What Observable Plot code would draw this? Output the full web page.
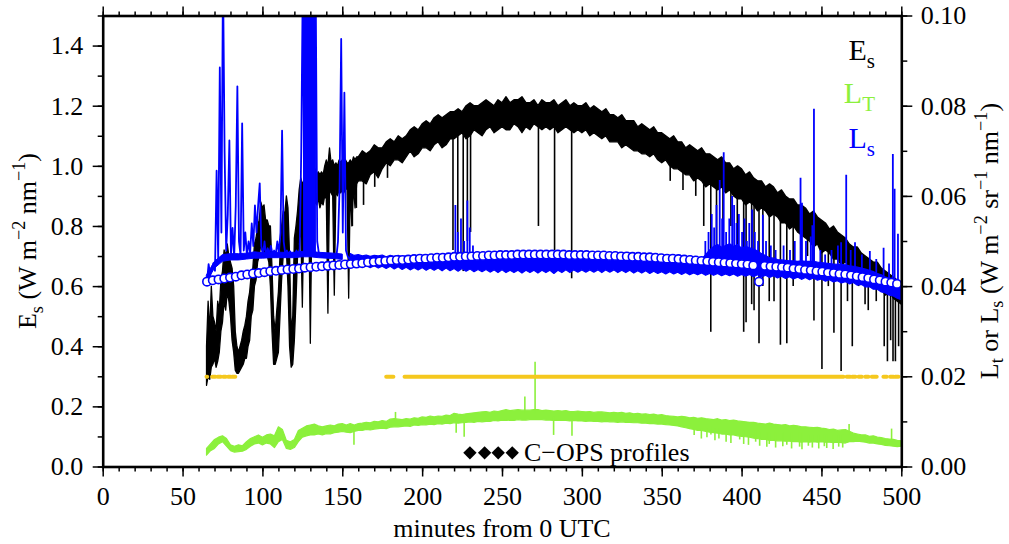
<!DOCTYPE html>
<html><head><meta charset="utf-8">
<script src="https://cdn.jsdelivr.net/npm/d3@7"></script>
<script src="https://cdn.jsdelivr.net/npm/@observablehq/plot@0.6"></script>
<style>body{margin:0;background:#fff;} svg{display:block}</style>
</head><body><div id="chart"></div>
<script>
// ---------------- data (minutes from 0 UTC) ----------------
// Es (left axis, W m-2 nm-1): envelope of the record, 65..160 min, 1-min samples
const esLeftStart = 65;
const esLeftLo = [0.27,0.30,0.29,0.33,0.34,0.36,0.33,0.35,0.38,0.45,
  0.48,0.55,0.52,0.58,0.55,0.50,0.42,0.38,0.32,0.31,
  0.31,0.32,0.33,0.34,0.36,0.36,0.40,0.42,0.50,0.52,
  0.60,0.62,0.68,0.70,0.74,0.72,0.72,0.70,0.70,0.68,
  0.60,0.45,0.34,0.34,0.36,0.38,0.50,0.62,0.70,0.70,
  0.72,0.60,0.40,0.33,0.34,0.42,0.55,0.70,0.75,0.80,
  0.53,0.85,0.84,0.88,0.86,0.41,0.86,0.87,0.88,0.87,
  0.89,0.86,0.88,0.87,0.90,0.89,0.51,0.92,0.91,0.90,
  0.57,0.92,0.90,0.92,0.91,0.92,0.91,0.93,0.92,0.56,
  0.93,0.80,0.93,0.86,0.94,0.95];
const esLeftHi = [0.40,0.55,0.45,0.60,0.50,0.48,0.45,0.55,0.52,0.62,
  0.65,0.72,0.70,0.74,0.70,0.68,0.66,0.60,0.45,0.40,
  0.38,0.40,0.42,0.45,0.47,0.50,0.55,0.58,0.64,0.66,
  0.74,0.76,0.80,0.82,0.88,0.86,0.87,0.82,0.82,0.80,
  0.80,0.66,0.50,0.45,0.52,0.58,0.70,0.80,0.85,0.84,
  0.90,0.86,0.70,0.45,0.50,0.76,0.80,0.85,0.92,0.96,
  0.94,0.95,0.94,0.98,0.96,0.95,0.96,0.97,0.99,0.97,
  0.98,0.97,0.98,0.97,1.00,1.02,1.00,1.06,1.01,1.02,
  1.00,1.01,1.00,1.02,1.01,1.02,1.00,1.02,1.01,1.01,
  1.02,1.01,1.03,1.02,1.03,1.03];
// Es envelope 160..500 min, 2.5-min samples
const esBandStart = 160, esBandStep = 2.5;
const esBandLo = [0.95,0.95,0.94,0.97, 0.98,0.96,0.99,1.01, 1.00,1.02,1.02,1.01, 1.03,1.05,1.03,1.04,
  1.06,1.06,1.05,1.07, 1.08,1.06,1.07,1.09, 1.09,1.10,1.11,1.09, 1.10,1.12,1.11,1.10,
  1.12,1.13,1.11,1.12, 1.13,1.12,1.12,1.14, 1.13,1.11,1.13,1.12, 1.14,1.13,1.12,1.13,
  1.12,1.13,1.11,1.12, 1.13,1.12,1.11,1.12, 1.11,1.12,1.10,1.11, 1.10,1.09,1.10,1.08,
  1.08,1.08,1.06,1.07, 1.06,1.05,1.05,1.04, 1.04,1.03,1.04,1.02, 1.01,1.02,1.00,0.99,
  0.99,0.98,0.97,0.97, 0.95,0.96,0.95,0.93, 0.94,0.93,0.92,0.93, 0.91,0.92,0.90,0.89,
  0.89,0.87,0.88,0.87, 0.85,0.86,0.85,0.83, 0.84,0.83,0.81,0.81, 0.79,0.80,0.78,0.77,
  0.76,0.75,0.73,0.74, 0.71,0.72,0.71,0.69, 0.69,0.67,0.68,0.67, 0.65,0.66,0.63,0.63,
  0.62,0.60,0.61,0.59, 0.57,0.58,0.56,0.55, 0.54];
const esBandHi = [1.03,1.05,1.04,1.05, 1.07,1.06,1.06,1.08, 1.09,1.08,1.10,1.09, 1.10,1.12,1.13,1.12,
  1.14,1.15,1.14,1.16, 1.17,1.16,1.17,1.18, 1.18,1.19,1.18,1.20, 1.21,1.20,1.20,1.21,
  1.22,1.21,1.20,1.22, 1.21,1.23,1.21,1.22, 1.22,1.23,1.21,1.21, 1.22,1.20,1.22,1.21,
  1.21,1.22,1.20,1.21, 1.22,1.20,1.21,1.20, 1.20,1.21,1.19,1.20, 1.19,1.18,1.19,1.17,
  1.17,1.16,1.17,1.15, 1.15,1.15,1.13,1.14, 1.13,1.12,1.13,1.11, 1.11,1.10,1.09,1.10,
  1.08,1.08,1.06,1.07, 1.06,1.05,1.06,1.04, 1.04,1.03,1.02,1.03, 1.01,1.01,0.99,1.00,
  0.99,0.97,0.98,0.96, 0.95,0.95,0.93,0.94, 0.93,0.91,0.92,0.90, 0.89,0.89,0.87,0.87,
  0.86,0.84,0.85,0.83, 0.82,0.81,0.79,0.80, 0.78,0.77,0.76,0.74, 0.73,0.73,0.71,0.70,
  0.69,0.68,0.68,0.66, 0.65,0.64,0.63,0.62, 0.60];
// Es cloud dips: time, level before dip, dip minimum
const esDipT   = [156,158.5,163,170,178,219,222,225.4,228,230,272.5,282.6,293.3,355,363,371,376,380.4,384,388,393,397,401,402.5,406,407.5,410.6,413,417,420,424,428,432,437,441,445,450,454,457.5,462,466,469,473,477,479,484,489,491,493,494.5,496,498];
const esDipTop = [0.98,0.98,1.00,1.02,1.04,1.14,1.14,1.15,1.15,1.15,1.17,1.17,1.16,1.05,1.03,1.01,1.00,0.99,0.98,0.97,0.96,0.95,0.94,0.94,0.92,0.92,0.91,0.90,0.89,0.88,0.87,0.85,0.84,0.82,0.81,0.79,0.77,0.76,0.75,0.73,0.72,0.70,0.68,0.66,0.66,0.63,0.61,0.60,0.59,0.58,0.58,0.57];
const esDipMin = [0.80,0.86,0.87,0.93,0.96,0.72,0.70,0.65,0.75,0.78,0.80,0.72,0.626,0.95,0.92,0.90,0.80,0.448,0.70,0.75,0.80,0.72,0.448,0.48,0.54,0.52,0.41,0.60,0.55,0.55,0.405,0.41,0.60,0.65,0.70,0.486,0.324,0.60,0.445,0.318,0.55,0.40,0.60,0.54,0.52,0.55,0.40,0.35,0.42,0.35,0.35,0.40];

// Ls (right axis, W m-2 sr-1 nm-1): detailed 65..160 min, 1-min samples
const lsDetailStart = 65;
const lsDetail = [0.0412,0.0450,0.0425,0.0440,0.0452,0.0435,0.0657,0.0460,0.0886,0.0520,
  0.1100,0.0700,0.0480,0.0560,0.0724,0.0470,0.0530,0.0465,0.0580,0.0844,
  0.0500,0.0470,0.0762,0.0480,0.0520,0.0468,0.0500,0.0475,0.0540,0.0490,
  0.0580,0.0520,0.0580,0.0629,0.0490,0.0470,0.0500,0.0468,0.0485,0.0470,
  0.0490,0.0472,0.0480,0.0470,0.0500,0.0475,0.0520,0.0746,0.0500,0.0472,
  0.0480,0.0470,0.0478,0.0468,0.0475,0.0470,0.0480,0.0472,0.0478,0.0700,
  0.1100,0.0480,0.1100,0.0500,0.1100,0.0705,0.1100,0.0480,0.1100,0.0500,
  0.0475,0.0468,0.0472,0.0466,0.0470,0.0468,0.0472,0.0466,0.0470,0.0465,
  0.0470,0.0466,0.0500,0.0620,0.0949,0.0520,0.0830,0.0480,0.0468,0.0462,
  0.0466,0.0460,0.0464,0.0458,0.0462,0.0456];
// saturated glint burst (off scale): start, end, base
const lsBurst = {start: 125.5, end: 133.5, base: 0.0470, top: 0.1100};
// Ls envelope 65..150 min, 5-min samples
const lsBand1Start = 65, lsBand1Step = 5;
const lsBand1Lo = [0.0410,0.0440,0.0455,0.0458,0.0458,0.0460,0.0462,0.0462,0.0463,0.0463,0.0463,0.0463,0.0465,0.0465,0.0463,0.0462,0.0461,0.0459];
const lsBand1Hi = [0.0425,0.0455,0.0470,0.0472,0.0472,0.0473,0.0476,0.0474,0.0475,0.0475,0.0475,0.0475,0.0477,0.0477,0.0475,0.0474,0.0473,0.0471];
// Ls envelope 155..500 min, 2.5-min samples
const lsBand2Start = 155, lsBand2Step = 2.5;
const lsBand2Lo = [0.0448,0.0444,0.0447,0.0442, 0.0446,0.0441,0.0445,0.0440, 0.0444,0.0439,0.0444,0.0438,
  0.0443,0.0437,0.0442,0.0436, 0.0441,0.0436,0.0441,0.0435, 0.0440,0.0435,0.0440,0.0434,
  0.0440,0.0434,0.0439,0.0433, 0.0439,0.0433,0.0438,0.0432, 0.0437,0.0432,0.0437,0.0431,
  0.0436,0.0430,0.0436,0.0430, 0.0435,0.0430,0.0435,0.0429, 0.0435,0.0430,0.0435,0.0429,
  0.0435,0.0430,0.0435,0.0428, 0.0435,0.0430,0.0436,0.0430, 0.0436,0.0431,0.0436,0.0431,
  0.0436,0.0431,0.0436,0.0430, 0.0436,0.0431,0.0436,0.0430, 0.0435,0.0430,0.0435,0.0429,
  0.0434,0.0429,0.0434,0.0428, 0.0433,0.0428,0.0432,0.0427, 0.0432,0.0427,0.0431,0.0426,
  0.0430,0.0425,0.0429,0.0425, 0.0429,0.0424,0.0428,0.0424, 0.0428,0.0423,0.0427,0.0423,
  0.0427,0.0422,0.0426,0.0422, 0.0426,0.0421,0.0425,0.0420, 0.0424,0.0419,0.0423,0.0418,
  0.0422,0.0417,0.0421,0.0416, 0.0420,0.0415,0.0419,0.0414, 0.0418,0.0413,0.0416,0.0411,
  0.0414,0.0409,0.0412,0.0407, 0.0410,0.0405,0.0408,0.0402, 0.0404,0.0398,0.0399,0.0393,
  0.0393,0.0387,0.0385,0.0380, 0.0378,0.0373,0.0370];
const lsBand2Hi = [0.0472,0.0468,0.0470,0.0467, 0.0469,0.0466,0.0468,0.0467, 0.0469,0.0465,0.0468,0.0466,
  0.0468,0.0465,0.0467,0.0466, 0.0467,0.0465,0.0467,0.0465, 0.0467,0.0464,0.0466,0.0465,
  0.0467,0.0468,0.0472,0.0470, 0.0471,0.0470,0.0468,0.0465, 0.0466,0.0464,0.0466,0.0464,
  0.0465,0.0463,0.0465,0.0464, 0.0465,0.0463,0.0465,0.0464, 0.0465,0.0463,0.0465,0.0464,
  0.0465,0.0463,0.0465,0.0464, 0.0465,0.0463,0.0465,0.0464, 0.0465,0.0463,0.0465,0.0464,
  0.0464,0.0463,0.0464,0.0463, 0.0464,0.0462,0.0464,0.0462, 0.0463,0.0461,0.0462,0.0461,
  0.0462,0.0460,0.0461,0.0460, 0.0460,0.0459,0.0460,0.0459, 0.0460,0.0458,0.0459,0.0457,
  0.0458,0.0457,0.0458,0.0457, 0.0460,0.0470,0.0480,0.0488, 0.0492,0.0486,0.0490,0.0494,
  0.0488,0.0492,0.0484,0.0488, 0.0485,0.0482,0.0478,0.0472, 0.0468,0.0463,0.0462,0.0459,
  0.0458,0.0457,0.0456,0.0456, 0.0455,0.0456,0.0455,0.0455, 0.0455,0.0453,0.0452,0.0451,
  0.0450,0.0449,0.0448,0.0448, 0.0447,0.0445,0.0444,0.0442, 0.0440,0.0438,0.0435,0.0432,
  0.0428,0.0425,0.0420,0.0417, 0.0412,0.0408,0.0405];
// Ls glint spikes: time, base, peak
const lsSpikeT    = [220.5,222,224,226,228,229.5,231.5,377,379,381,382.5,384,386,387.5,388.5,390,392,393.8,395,396.5,398,400,401.5,403,404.5,406.3,408,410,413,415,418,421,426,430,433,436.6,437.5,440,443,444,445,449,452,456,460,462,465.2,468,470.7,475,480,484,488.6,492,494.4,495.5,497.6];
const lsSpikeBase = [0.046,0.046,0.046,0.046,0.046,0.046,0.046,0.046,0.046,0.046,0.046,0.046,0.046,0.046,0.046,0.046,0.046,0.046,0.046,0.046,0.046,0.046,0.046,0.046,0.046,0.046,0.046,0.046,0.045,0.045,0.045,0.045,0.045,0.045,0.045,0.044,0.044,0.044,0.044,0.044,0.044,0.044,0.044,0.044,0.044,0.044,0.044,0.044,0.043,0.043,0.043,0.042,0.042,0.041,0.040,0.040,0.039];
const lsSpikePeak = [0.058,0.052,0.055,0.050,0.059,0.053,0.049,0.050,0.052,0.056,0.053,0.058,0.0635,0.055,0.0697,0.052,0.055,0.060,0.058,0.054,0.056,0.052,0.055,0.050,0.054,0.057,0.052,0.050,0.0558,0.050,0.049,0.048,0.049,0.048,0.050,0.064,0.0585,0.050,0.051,0.0535,0.0793,0.048,0.047,0.048,0.049,0.0497,0.0647,0.048,0.0497,0.047,0.0478,0.046,0.0485,0.045,0.0693,0.0616,0.0516];

// Modelled Ls (open circles, right axis), every 3.6 min from 65 min
const modelStart = 65, modelStep = 3.6;
const modelLs = [0.0411,0.0414,0.0416,0.0418,0.0420,0.0422,0.0425,0.0427,0.0429,0.0430,
  0.0432,0.0434,0.0435,0.0437,0.0438,0.0439,0.0440,0.0442,0.0443,0.0444,
  0.0445,0.0446,0.0447,0.0448,0.0449,0.0450,0.0451,0.0452,0.0454,0.0455,
  0.0456,0.0457,0.0458,0.0459,0.0459,0.0460,0.0461,0.0462,0.0462,0.0463,
  0.0464,0.0464,0.0465,0.0466,0.0466,0.0467,0.0467,0.0468,0.0468,0.0469,
  0.0469,0.0470,0.0470,0.0470,0.0471,0.0471,0.0471,0.0471,0.0471,0.0471,
  0.0471,0.0471,0.0471,0.0470,0.0470,0.0470,0.0470,0.0469,0.0469,0.0469,
  0.0468,0.0468,0.0467,0.0467,0.0466,0.0466,0.0465,0.0465,0.0464,0.0463,
  0.0462,0.0462,0.0461,0.0460,0.0459,0.0458,0.0457,0.0456,0.0455,0.0454,
  0.0453,0.0452,0.0451,0.0450,0.0449,0.0447,0.0411,0.0446,0.0445,0.0444,
  0.0443,0.0442,0.0440,0.0439,0.0437,0.0436,0.0434,0.0433,0.0431,0.0430,
  0.0428,0.0427,0.0425,0.0423,0.0421,0.0419,0.0416,0.0414,0.0411,0.0409,
  0.0406];

// LT (right axis): envelope 65..500 min, 2.5-min samples
const ltBandStart = 65, ltBandStep = 2.5;
const ltBandLo = [0.0025,0.0035,0.0040,0.0050, 0.0055,0.0045,0.0035,0.0032, 0.0033,0.0034,0.0038,0.0045,
  0.0050,0.0052,0.0048,0.0052, 0.0050,0.0042,0.0055,0.0060, 0.0040,0.0038,0.0042,0.0055,
  0.0065,0.0068,0.0070,0.0070, 0.0072,0.0070,0.0073,0.0072, 0.0075,0.0076,0.0078,0.0076,
  0.0075,0.0078,0.0080,0.0080, 0.0082,0.0081,0.0083,0.0084, 0.0085,0.0084,0.0087,0.0088,
  0.0088,0.0089,0.0090,0.0089, 0.0092,0.0091,0.0093,0.0092, 0.0094,0.0093,0.0095,0.0094,
  0.0096,0.0095,0.0097,0.0096, 0.0097,0.0098,0.0099,0.0098, 0.0100,0.0099,0.0100,0.0100,
  0.0102,0.0101,0.0103,0.0102, 0.0103,0.0102,0.0104,0.0103, 0.0103,0.0104,0.0104,0.0104,
  0.0104,0.0103,0.0103,0.0102, 0.0103,0.0102,0.0102,0.0101, 0.0102,0.0101,0.0101,0.0100,
  0.0101,0.0100,0.0100,0.0099, 0.0100,0.0099,0.0099,0.0098, 0.0099,0.0098,0.0098,0.0097,
  0.0097,0.0096,0.0096,0.0095, 0.0095,0.0094,0.0094,0.0093, 0.0092,0.0091,0.0090,0.0088,
  0.0086,0.0084,0.0082,0.0080, 0.0080,0.0078,0.0076,0.0075, 0.0074,0.0072,0.0072,0.0070,
  0.0070,0.0068,0.0067,0.0066, 0.0065,0.0063,0.0062,0.0060, 0.0060,0.0058,0.0058,0.0057,
  0.0057,0.0056,0.0056,0.0055, 0.0055,0.0054,0.0055,0.0054, 0.0055,0.0054,0.0055,0.0054,
  0.0054,0.0053,0.0054,0.0053, 0.0052,0.0055,0.0055,0.0056, 0.0055,0.0054,0.0052,0.0052,
  0.0050,0.0049,0.0047,0.0046, 0.0045,0.0044,0.0045];
const ltBandHi = [0.0040,0.0050,0.0060,0.0065, 0.0068,0.0062,0.0048,0.0045, 0.0048,0.0046,0.0055,0.0062,
  0.0066,0.0070,0.0065,0.0070, 0.0072,0.0068,0.0088,0.0082, 0.0058,0.0055,0.0060,0.0080,
  0.0085,0.0090,0.0092,0.0094, 0.0090,0.0088,0.0090,0.0092, 0.0090,0.0094,0.0095,0.0092,
  0.0095,0.0092,0.0095,0.0096, 0.0098,0.0097,0.0100,0.0099, 0.0102,0.0100,0.0105,0.0106,
  0.0105,0.0104,0.0106,0.0105, 0.0108,0.0107,0.0110,0.0109, 0.0112,0.0110,0.0112,0.0111,
  0.0114,0.0113,0.0118,0.0116, 0.0115,0.0117,0.0118,0.0119, 0.0120,0.0121,0.0122,0.0120,
  0.0123,0.0122,0.0124,0.0126, 0.0124,0.0125,0.0126,0.0125, 0.0125,0.0125,0.0126,0.0126,
  0.0124,0.0125,0.0124,0.0123, 0.0124,0.0123,0.0124,0.0122, 0.0122,0.0123,0.0122,0.0121,
  0.0122,0.0120,0.0121,0.0121, 0.0120,0.0119,0.0120,0.0119, 0.0120,0.0118,0.0119,0.0117,
  0.0118,0.0116,0.0117,0.0115, 0.0116,0.0114,0.0115,0.0113, 0.0112,0.0111,0.0110,0.0111,
  0.0110,0.0108,0.0109,0.0107, 0.0108,0.0106,0.0105,0.0104, 0.0106,0.0103,0.0104,0.0102,
  0.0103,0.0101,0.0100,0.0099, 0.0098,0.0098,0.0096,0.0095, 0.0094,0.0096,0.0094,0.0093,
  0.0092,0.0093,0.0090,0.0091, 0.0090,0.0088,0.0088,0.0087, 0.0086,0.0087,0.0085,0.0084,
  0.0082,0.0083,0.0080,0.0081, 0.0082,0.0078,0.0074,0.0072, 0.0070,0.0070,0.0067,0.0068,
  0.0065,0.0064,0.0062,0.0061, 0.0060,0.0058,0.0057];
// LT spikes and dips: time, band level, tip
const ltSpikeT    = [157,183,221,226,264,270.4,282,293.5,380.5,467,493.6,
  370,374.5,378,383,385.5,390,393,398.5,401,404,408.5,411,415.5,417,421,425.5,428,431,436,437.5,441.5,444,448,451.5,453,457,460.5,463];
const ltSpikeBase = [0.0088,0.0100,0.0105,0.0105,0.0118,0.0118,0.0110,0.0110,0.0090,0.0070,0.0055,
  0.0085,0.0085,0.0085,0.0085,0.0085,0.0080,0.0080,0.0080,0.0080,0.0080,0.0080,0.0075,0.0075,0.0075,0.0075,0.0075,0.0075,0.0075,0.0075,0.0075,0.0070,0.0070,0.0070,0.0070,0.0070,0.0070,0.0070,0.0070];
const ltSpikeTip  = [0.0048,0.0121,0.0075,0.0066,0.0155,0.0232,0.0070,0.0068,0.0071,0.0094,0.0084,
  0.0070,0.0062,0.0065,0.0058,0.0062,0.0055,0.0052,0.0060,0.0050,0.0048,0.0055,0.0046,0.0044,0.0050,0.0042,0.0045,0.0048,0.0040,0.0044,0.0038,0.0046,0.0042,0.0040,0.0045,0.0041,0.0039,0.0044,0.0042];

// Data-quality flag line (right axis 0.02): start/end of flagged spans
const flagLevel = 0.02;
const flagStart = [65,68.5,72,75.5,78.5,81,177.5,189,465.8,469.2,473.2,477.4,481.5,488.8,493,496.1];
const flagEnd   = [65.4,70.5,74,77,80,83,182,463.8,468,471.3,475.3,479.4,484.6,490.9,495.1,498.2];

// C-OPS profile times (diamonds) and label
const copsTimes = [229.6,238.8,247.3,256.1];
const copsLevel = 0.047;            // left-axis units
const copsLabel = "C\u2212OPS profiles";
const copsLabelT = 263.4;

// axes
const xTicks = [0,50,100,150,200,250,300,350,400,450,500];
const xMinor = [0,10,20,30,40,50,60,70,80,90,100,110,120,130,140,150,160,170,180,190,200,210,220,230,240,250,260,270,280,290,300,310,320,330,340,350,360,370,380,390,400,410,420,430,440,450,460,470,480,490,500];
const leftTicks = [0,0.2,0.4,0.6,0.8,1.0,1.2,1.4];
const leftMinor = [0,0.1,0.2,0.3,0.4,0.5,0.6,0.7,0.8,0.9,1.0,1.1,1.2,1.3,1.4,1.5];
const rightTicks = [0,0.02,0.04,0.06,0.08,0.10];
const rightMinor = [0,0.01,0.02,0.03,0.04,0.05,0.06,0.07,0.08,0.09,0.10];

// ---------------- build tables ----------------
const K = 15; // right axis 0..0.10 shares the left scale 0..1.5
const band = (lo, hi, start, step, k = 1) => lo.map((l, i) => ({t: start + i * step, lo: l * k, hi: hi[i] * k}));
const esLeft = band(esLeftLo, esLeftHi, esLeftStart, 1);
const esBand = band(esBandLo, esBandHi, esBandStart, esBandStep);
const esDips = esDipT.map((t, i) => ({t, a: esDipTop[i], b: esDipMin[i]}));
const lsLine = lsDetail.map((v, i) => ({t: lsDetailStart + i, v: v * K}));
const lsB1 = band(lsBand1Lo, lsBand1Hi, lsBand1Start, lsBand1Step, K);
const lsB2 = band(lsBand2Lo, lsBand2Hi, lsBand2Start, lsBand2Step, K);
const lsSpikes = lsSpikeT.map((t, i) => ({t, a: lsSpikeBase[i] * K, b: lsSpikePeak[i] * K}));
const burst = [{x1: lsBurst.start, x2: lsBurst.end, y1: lsBurst.base * K, y2: lsBurst.top * K}];
const model = modelLs.map((v, i) => ({t: modelStart + i * modelStep, v: v * K}));
const ltBand = band(ltBandLo, ltBandHi, ltBandStart, ltBandStep, K);
const ltSpikes = ltSpikeT.map((t, i) => ({t, a: ltSpikeBase[i] * K, b: ltSpikeTip[i] * K}));
const flags = flagStart.map((a, i) => ({a, b: flagEnd[i], y: flagLevel * K}));
const cops = copsTimes.map(t => ({t, y: copsLevel}));

const GREEN = "#8cf03c", BLUE = "#0000ff", GOLD = "#f5c81e";
const FS = 26;
const FONT = "'Liberation Serif','Times New Roman',serif";

const plot = Plot.plot({
  width: 1009, height: 544,
  marginLeft: 102.7, marginRight: 107.7, marginTop: 15.5, marginBottom: 77.5,
  x: {domain: [0, 500], axis: null},
  y: {domain: [0, 1.5], axis: null},
  style: {fontFamily: FONT, fontSize: FS + "px", background: "white", color: "black"},
  marks: [
    // LT
    Plot.areaY(ltBand, {x: "t", y1: "lo", y2: "hi", fill: GREEN, stroke: GREEN, strokeWidth: 1.2, clip: true}),
    Plot.ruleX(ltSpikes, {x: "t", y1: "a", y2: "b", stroke: GREEN, strokeWidth: 1.6}),
    // Es
    Plot.ruleX(esDips, {x: "t", y1: "a", y2: "b", stroke: "black", strokeWidth: 1.6}),
    Plot.areaY(esLeft, {x: "t", y1: "lo", y2: "hi", fill: "black", stroke: "black", strokeWidth: 1.3, clip: true}),
    Plot.areaY(esBand, {x: "t", y1: "lo", y2: "hi", fill: "black", stroke: "black", strokeWidth: 1.3, clip: true}),
    // flag line
    Plot.ruleY(flags, {x1: "a", x2: "b", y: "y", stroke: GOLD, strokeWidth: 4, strokeLinecap: "round"}),
    // Ls
    Plot.ruleX(lsSpikes, {x: "t", y1: "a", y2: "b", stroke: BLUE, strokeWidth: 1.8, clip: true}),
    Plot.rect(burst, {x1: "x1", x2: "x2", y1: "y1", y2: "y2", fill: BLUE, clip: true}),
    Plot.areaY(lsB1, {x: "t", y1: "lo", y2: "hi", fill: BLUE, stroke: BLUE, strokeWidth: 1, clip: true}),
    Plot.areaY(lsB2, {x: "t", y1: "lo", y2: "hi", fill: BLUE, stroke: BLUE, strokeWidth: 1.2, clip: true}),
    Plot.line(lsLine, {x: "t", y: "v", stroke: BLUE, strokeWidth: 1.8, clip: true}),
    // modelled Ls
    Plot.dot(model, {x: "t", y: "v", r: 4.2, fill: "white", stroke: BLUE, strokeWidth: 1.6}),
    // C-OPS profiles
    Plot.dot(cops, {x: "t", y: "y", symbol: "diamond2", r: 6, fill: "black", stroke: "none"}),
    Plot.text([copsLabel], {x: () => copsLabelT, y: () => copsLevel, text: d => d, textAnchor: "start", lineAnchor: "middle", fontSize: FS, fill: "black"}),
    // axes
    Plot.axisX(xMinor, {anchor: "bottom", tickSize: 5, strokeWidth: 1.5, tickFormat: () => "", label: null}),
    Plot.axisX(xTicks, {anchor: "bottom", tickSize: 10, tickPadding: 10, strokeWidth: 1.5, tickFormat: d => String(d), fontSize: FS, label: null}),
    Plot.axisX(xMinor, {anchor: "top", tickSize: 5, strokeWidth: 1.5, tickFormat: () => "", label: null}),
    Plot.axisX(xTicks, {anchor: "top", tickSize: 10, strokeWidth: 1.5, tickFormat: () => "", label: null}),
    Plot.axisY(leftMinor, {anchor: "left", tickSize: 5, strokeWidth: 1.5, tickFormat: () => "", label: null}),
    Plot.axisY(leftTicks, {anchor: "left", tickSize: 10, tickPadding: 10, strokeWidth: 1.5, tickFormat: d => d.toFixed(1), fontSize: FS, label: null}),
    Plot.axisY(rightMinor.map(v => v * K), {anchor: "right", tickSize: 5, strokeWidth: 1.5, tickFormat: () => "", label: null}),
    Plot.axisY(rightTicks.map(v => v * K), {anchor: "right", tickSize: 10, tickPadding: 9, strokeWidth: 1.5, tickFormat: d => (d / K).toFixed(2), fontSize: FS, label: null}),
    Plot.frame({stroke: "black", strokeWidth: 2.6})
  ]
});
document.getElementById("chart").appendChild(plot);

// ---------------- titles & legend with sub/superscripts ----------------
const svg = d3.select(plot.tagName.toLowerCase() === "svg" ? plot : plot.querySelector("svg"));
function richText(x, y, parts, {size = FS, anchor = "middle", rotate = 0, fill = "black", sub = 0.26} = {}) {
  const t = svg.append("text")
    .attr("transform", `translate(${x},${y})` + (rotate ? ` rotate(${rotate})` : ""))
    .attr("text-anchor", anchor).attr("fill", fill)
    .attr("font-size", size).attr("font-family", FONT);
  let shift = 0;
  for (const p of parts) {
    const target = p.sub ? sub * size : p.sup ? -0.42 * size : 0;
    const ts = t.append("tspan").text(p.t).attr("dy", target - shift);
    if (p.sub || p.sup) ts.attr("font-size", size * 0.7);
    shift = target;
  }
}
richText(502, 537, [{t: "minutes from 0 UTC"}]);
richText(36, 241, [{t: "E"}, {t: "s", sub: true}, {t: " (W m"}, {t: "\u22122", sup: true}, {t: " nm"}, {t: "\u22121", sup: true}, {t: ")"}], {rotate: -90});
richText(998, 241, [{t: "L"}, {t: "t", sub: true}, {t: " or L"}, {t: "s", sub: true}, {t: " (W m"}, {t: "\u22122", sup: true}, {t: " sr"}, {t: "\u22121", sup: true}, {t: " nm"}, {t: "\u22121", sup: true}, {t: ")"}], {rotate: -90, sub: 0.2});
richText(875, 60, [{t: "E"}, {t: "s", sub: true}], {size: 30, anchor: "end", fill: "black"});
richText(875, 103, [{t: "L"}, {t: "T", sub: true}], {size: 30, anchor: "end", fill: GREEN});
richText(875, 148, [{t: "L"}, {t: "s", sub: true}], {size: 30, anchor: "end", fill: BLUE});
</script>
</body></html>
